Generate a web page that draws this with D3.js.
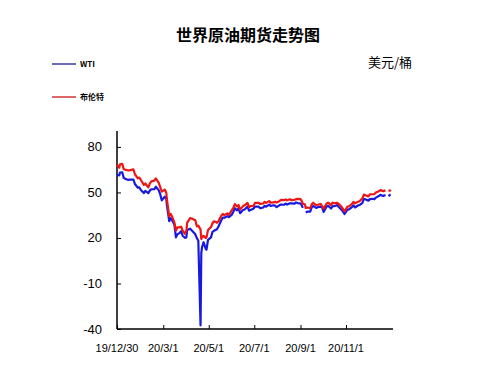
<!DOCTYPE html>

<html>
  <head>
    <meta charset="utf-8" />
    <title>世界原油期货走势图</title>
    <style>
      body { margin: 0; background: #fff; }
      svg { font-family: "Liberation Sans", Arial, sans-serif; }
    </style>
  </head>
  <body>
    <script src="https://d3js.org/d3.v7.min.js"></script>
    <script>
      // trading days (sampled), null = no settlement that day
      const dates = [
        "2019-12-30", "2020-01-02", "2020-01-03", "2020-01-06", "2020-01-08", "2020-01-10",
        "2020-01-14", "2020-01-16", "2020-01-21", "2020-01-23", "2020-01-27", "2020-01-29",
        "2020-01-31", "2020-02-04", "2020-02-06", "2020-02-10", "2020-02-12", "2020-02-14",
        "2020-02-18", "2020-02-20", "2020-02-24", "2020-02-26", "2020-02-28", "2020-03-03",
        "2020-03-05", "2020-03-06", "2020-03-09", "2020-03-11", "2020-03-13", "2020-03-16",
        "2020-03-18", "2020-03-20", "2020-03-23", "2020-03-25", "2020-03-27", "2020-03-30",
        "2020-04-01", "2020-04-02", "2020-04-06", "2020-04-08", "2020-04-13", "2020-04-15",
        "2020-04-17", "2020-04-20", "2020-04-21", "2020-04-22", "2020-04-24", "2020-04-27",
        "2020-04-28", "2020-04-30", "2020-05-04", "2020-05-06", "2020-05-08", "2020-05-12",
        "2020-05-14", "2020-05-18", "2020-05-20", "2020-05-22", "2020-05-26", "2020-05-28",
        "2020-06-01", "2020-06-03", "2020-06-05", "2020-06-08", "2020-06-10", "2020-06-12",
        "2020-06-16", "2020-06-18", "2020-06-22", "2020-06-24", "2020-06-26", "2020-06-30",
        "2020-07-02", "2020-07-07", "2020-07-09", "2020-07-13", "2020-07-15", "2020-07-17",
        "2020-07-21", "2020-07-23", "2020-07-27", "2020-07-29", "2020-07-31", "2020-08-04",
        "2020-08-06", "2020-08-10", "2020-08-12", "2020-08-14", "2020-08-18", "2020-08-20",
        "2020-08-24", "2020-08-26", "2020-08-28", "2020-09-01", "2020-09-03", "2020-09-04",
        "2020-09-07", "2020-09-08", "2020-09-10", "2020-09-14", "2020-09-16", "2020-09-18",
        "2020-09-22", "2020-09-24", "2020-09-28", "2020-09-30", "2020-10-02", "2020-10-06",
        "2020-10-08", "2020-10-12", "2020-10-14", "2020-10-16", "2020-10-20", "2020-10-22",
        "2020-10-26", "2020-10-28", "2020-10-30", "2020-11-03", "2020-11-05", "2020-11-09",
        "2020-11-11", "2020-11-13", "2020-11-17", "2020-11-19", "2020-11-23", "2020-11-25",
        "2020-11-27", "2020-12-01", "2020-12-03", "2020-12-07", "2020-12-09", "2020-12-11",
        "2020-12-15", "2020-12-17", "2020-12-21", "2020-12-23", "2020-12-24", "2020-12-25",
        "2020-12-28", "2020-12-30", "2020-12-31"
      ];

      const wti = [
        61.7, 61.2, 63.1, 63.3, 59.6, 59.0,
        58.2, 58.5, 58.4, 55.6, 53.1, 53.3,
        51.6, 49.6, 51.0, 49.6, 51.2, 52.1,
        52.1, 53.8, 51.4, 48.7, 44.8, 47.2,
        45.9, 41.3, 31.1, 33.0, 31.7, 28.7,
        20.4, 22.4, 23.4, 24.5, 21.5, 20.1,
        20.3, 25.3, 26.1, 25.1, 22.4, 19.9,
        18.3, -37.6, 10.0, 13.8, 17.2, 12.8,
        12.3, 18.8, 20.4, 24.0, 24.7, 25.8,
        27.6, 31.8, 33.5, 33.3, 34.4, 33.7,
        35.4, 37.3, 39.6, 38.2, 39.6, 36.3,
        38.4, 38.8, 40.7, 38.0, 38.5, 39.3,
        40.7, 40.6, 39.6, 40.1, 41.2, 40.6,
        42.0, 41.1, 41.6, 41.3, 40.3, 41.7,
        42.0, 41.9, 42.7, 42.0, 42.9, 42.8,
        42.6, 43.4, 43.0, 42.8, 41.4, 39.8,
        null, 36.8, 37.3, 37.3, 40.2, 41.1,
        39.8, 40.3, 40.6, 40.2, 37.1, 40.7,
        41.2, 39.4, 41.0, 40.9, 41.7, 40.6,
        38.6, 37.4, 35.8, 38.7, 38.8, 40.3,
        41.5, 40.1, 41.4, 41.7, 43.1, 45.7,
        45.5, 44.6, 45.6, 45.8, 45.5, 46.6,
        47.6, 48.4, 47.7, 48.1, 48.2, null,
        47.6, 48.4, 48.5
      ];

      const brent = [
        68.4, 66.3, 68.6, 68.9, 65.4, 65.0,
        64.5, 64.6, 65.2, 62.0, 59.3, 59.8,
        58.2, 55.0, 55.9, 53.3, 55.8, 57.3,
        57.8, 59.3, 56.3, 53.4, 50.5, 51.9,
        50.0, 45.3, 34.4, 35.8, 33.9, 30.1,
        24.9, 27.0, 27.0, 27.4, 24.9, 22.8,
        24.7, 29.9, 33.1, 32.8, 31.7, 27.7,
        28.1, 25.6, 19.3, 20.4, 21.4, 20.0,
        20.5, 25.3, 27.2, 29.7, 31.0, 30.0,
        31.1, 34.8, 35.8, 35.1, 36.2, 35.3,
        38.3, 39.8, 42.3, 40.8, 41.7, 38.7,
        41.0, 41.5, 43.1, 40.3, 41.0, 41.2,
        43.1, 43.1, 42.4, 42.7, 43.8, 43.1,
        44.3, 43.3, 43.4, 43.8, 43.3, 44.4,
        45.1, 45.0, 45.4, 44.8, 45.5, 44.9,
        45.1, 45.6, 45.8, 45.6, 44.1, 42.7,
        42.0, 39.8, 40.1, 39.6, 42.2, 43.2,
        41.7, 41.9, 42.4, 41.0, 39.3, 42.7,
        43.3, 41.7, 43.3, 42.9, 43.2, 42.5,
        40.5, 39.1, 37.5, 40.7, 40.9, 42.4,
        43.8, 42.8, 43.8, 44.2, 46.1, 48.6,
        48.2, 47.4, 48.7, 48.8, 48.9, 50.0,
        50.8, 51.5, 50.9, 51.2, 51.3, null,
        50.9, 51.3, 51.8
      ];

      const yTicks = [-40, -10, 20, 50, 80];
      const xTicks = ["2019-12-30", "2020-03-01", "2020-05-01", "2020-07-01", "2020-09-01", "2020-11-01"];

      const width = 488;
      const height = 387;
      const parse = d3.timeParse("%Y-%m-%d");

      const svg = d3.select("body").append("svg")
        .attr("width", width)
        .attr("height", height);

      const x = d3.scaleTime()
        .domain([parse("2019-12-30"), parse("2021-01-03")])
        .range([117, 393]);

      const y = d3.scaleLinear()
        .domain([-40, 90.5])
        .range([329, 131]);

      const fmt = (d) => `${d.getFullYear() % 100}/${d.getMonth() + 1}/${d.getDate()}`;

      // title
      svg.append("text")
        .attr("x", 248)
        .attr("y", 41)
        .attr("text-anchor", "middle")
        .attr("font-family", "'Noto Sans CJK SC', sans-serif")
        .attr("font-weight", "bold")
        .attr("font-size", 16)
        .text("世界原油期货走势图");

      svg.append("text")
        .attr("x", 368)
        .attr("y", 67)
        .attr("font-family", "'Noto Sans CJK SC', sans-serif")
        .attr("font-size", 13)
        .text("美元/桶");

      // legend
      const legend = [
        { name: "WTI", color: "#1c1c9a", y: 64 },
        { name: "布伦特", color: "#c81818", y: 97 }
      ];
      legend.forEach((l) => {
        svg.append("line")
          .attr("x1", 52).attr("x2", 76)
          .attr("y1", l.y).attr("y2", l.y)
          .attr("stroke", l.color)
          .attr("stroke-width", 1.3);
        svg.append("text")
          .attr("x", 80)
          .attr("y", l.y + 3)
          .attr("font-family", "'Noto Sans CJK SC', sans-serif")
          .attr("font-weight", "bold")
          .attr("font-size", 8)
          .text(l.name);
      });

      // axes
      const yAxis = svg.append("g")
        .attr("transform", `translate(${x.range()[0]},0)`)
        .call(d3.axisRight(y).tickValues(yTicks).tickSize(4).tickFormat(""));
      yAxis.select(".domain").attr("stroke-width", 1.5).attr("d", `M0,${y.range()[1]}V${y.range()[0]}`);

      svg.selectAll(".ylab")
        .data(yTicks)
        .enter()
        .append("text")
        .attr("class", "ylab")
        .attr("x", 102)
        .attr("y", (d) => y(d) + 4.5)
        .attr("text-anchor", "end")
        .attr("font-size", 13)
        .text((d) => d);

      const xAxis = svg.append("g")
        .attr("transform", `translate(0,${y.range()[0]})`)
        .call(d3.axisTop(x).tickValues(xTicks.map(parse)).tickSize(4).tickFormat(""));
      xAxis.select(".domain").attr("stroke-width", 1.5).attr("d", `M${x.range()[0]},0H${x.range()[1]}`);

      svg.selectAll(".xlab")
        .data(xTicks.map(parse))
        .enter()
        .append("text")
        .attr("class", "xlab")
        .attr("x", (d) => x(d))
        .attr("y", 352)
        .attr("text-anchor", "middle")
        .attr("font-size", 11)
        .text(fmt);

      // series
      const line = (vals) => d3.line()
        .defined((d, i) => vals[i] !== null)
        .x((d) => x(parse(d)))
        .y((d, i) => y(vals[i]))(dates);

      svg.append("path")
        .attr("d", line(wti))
        .attr("fill", "none")
        .attr("stroke", "#1818e0")
        .attr("stroke-width", 2.2)
        .attr("stroke-linejoin", "round");

      svg.append("path")
        .attr("d", line(brent))
        .attr("fill", "none")
        .attr("stroke", "#ee1515")
        .attr("stroke-width", 2.2)
        .attr("stroke-linejoin", "round");
    </script>
  </body>
</html>
